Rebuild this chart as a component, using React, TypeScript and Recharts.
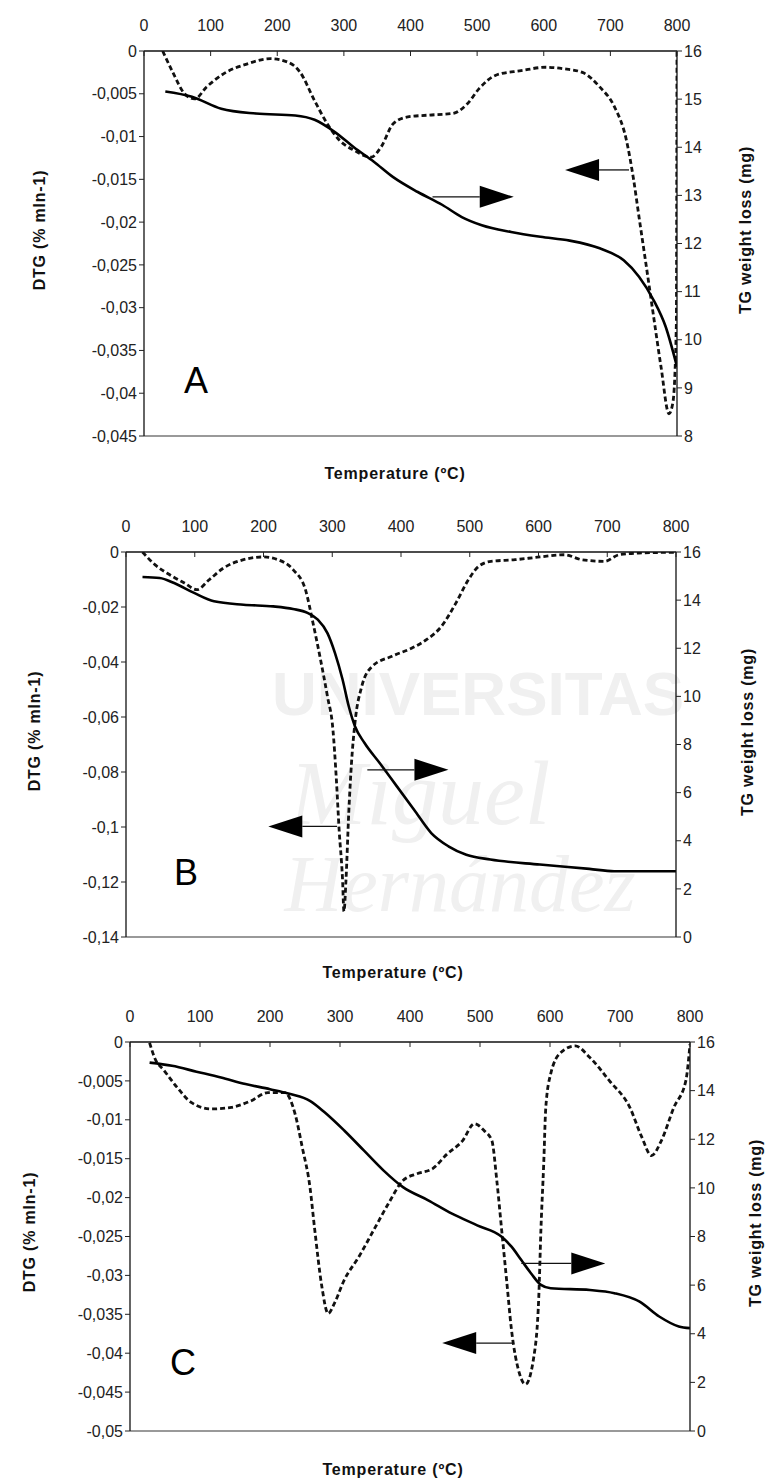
import { LineChart, Line, XAxis, YAxis, ReferenceLine } from "recharts";

// ---- panel A ----
const tA_dtg = [28, 43, 61, 76, 94, 124, 153, 190, 216, 234, 256, 275, 293, 315, 341, 356, 374, 396, 426, 463, 485, 503, 529, 566, 603, 632, 658, 684, 706, 724, 735, 743, 754, 765, 776, 788, 794, 799, 800];
const dtgA = [0, -0.00245, -0.005, -0.0056, -0.0042, -0.00245, -0.00156, -0.0009, -0.0013, -0.00245, -0.0058, -0.0085, -0.0104, -0.0116, -0.0124, -0.0112, -0.0085, -0.0077, -0.0075, -0.0073, -0.0062, -0.0044, -0.0028, -0.0023, -0.0019, -0.0021, -0.0025, -0.0042, -0.0065, -0.0104, -0.0151, -0.0194, -0.0252, -0.0311, -0.0369, -0.0424, -0.041, -0.032, 0];
const tA_tg = [32, 72, 116, 168, 227, 256, 286, 315, 345, 374, 411, 448, 477, 507, 551, 595, 639, 684, 720, 743, 765, 783, 800];
const tgA = [15.16, 15.05, 14.8, 14.7, 14.66, 14.57, 14.32, 14.0, 13.7, 13.38, 13.07, 12.8, 12.55, 12.38, 12.24, 12.14, 12.06, 11.9, 11.65, 11.31, 10.82, 10.27, 9.44];

// ---- panel B ----
const tB_dtg = [24, 42, 63, 85, 103, 121, 142, 171, 200, 221, 243, 261, 272, 283, 293, 301, 306, 310, 315, 317, 320, 324, 328, 333, 343, 358, 387, 416, 437, 459, 480, 498, 513, 531, 566, 602, 638, 663, 696, 717, 746, 800];
const dtgB = [0, -0.0046, -0.0082, -0.0113, -0.0137, -0.0101, -0.0058, -0.0028, -0.0018, -0.0028, -0.0064, -0.0137, -0.0258, -0.0392, -0.0525, -0.0646, -0.0828, -0.101, -0.1192, -0.1307, -0.1192, -0.0949, -0.0767, -0.0622, -0.0488, -0.0416, -0.0379, -0.0349, -0.0319, -0.027, -0.0185, -0.0101, -0.0052, -0.0034, -0.0028, -0.0018, -0.001, -0.0028, -0.0034, -0.001, -0.0004, -0.0001];
const tB_tg = [24, 49, 70, 99, 128, 171, 214, 243, 264, 279, 293, 304, 315, 324, 333, 347, 369, 394, 419, 444, 469, 495, 530, 602, 674, 710, 800];
const tgB = [14.96, 14.92, 14.71, 14.3, 13.95, 13.81, 13.74, 13.63, 13.47, 13.19, 12.63, 11.8, 10.7, 9.59, 8.76, 8.06, 7.23, 6.26, 5.29, 4.32, 3.77, 3.42, 3.22, 3.01, 2.83, 2.73, 2.73];

// ---- panel C ----
const tC_dtg = [28, 35, 49, 67, 88, 116, 145, 172, 197, 221, 236, 246, 257, 264, 274, 283, 292, 306, 327, 348, 369, 390, 411, 432, 453, 475, 492, 506, 517, 524, 531, 538, 545, 556, 565, 577, 584, 587, 591, 594, 601, 615, 636, 657, 685, 714, 731, 745, 759, 777, 794, 800];
const dtgC = [-0.0001, -0.002, -0.0037, -0.0058, -0.0078, -0.0086, -0.0084, -0.0076, -0.0065, -0.0065, -0.0093, -0.0135, -0.0186, -0.0242, -0.0314, -0.0349, -0.0336, -0.0306, -0.0276, -0.0242, -0.0208, -0.0178, -0.0169, -0.0163, -0.0144, -0.0127, -0.0105, -0.0114, -0.0127, -0.0178, -0.0242, -0.0306, -0.037, -0.0425, -0.044, -0.0404, -0.0327, -0.0242, -0.0157, -0.0084, -0.0041, -0.0014, -0.0005, -0.002, -0.005, -0.0084, -0.0122, -0.0146, -0.0127, -0.0084, -0.005, -0.0003];
const tC_tg = [28, 60, 95, 130, 165, 200, 229, 257, 278, 306, 334, 362, 390, 426, 460, 496, 531, 545, 559, 573, 587, 601, 657, 692, 728, 756, 784, 800];
const tgC = [15.15, 15.02, 14.78, 14.54, 14.27, 14.06, 13.86, 13.58, 13.11, 12.36, 11.54, 10.72, 10.03, 9.49, 8.94, 8.46, 7.99, 7.58, 7.03, 6.48, 6.01, 5.87, 5.8, 5.67, 5.32, 4.71, 4.3, 4.23];

const tempTicks = [0, 100, 200, 300, 400, 500, 600, 700, 800];
const dtgTicksA = [0, -0.005, -0.01, -0.015, -0.02, -0.025, -0.03, -0.035, -0.04, -0.045];
const dtgTicksB = [0, -0.02, -0.04, -0.06, -0.08, -0.1, -0.12, -0.14];
const dtgTicksC = [0, -0.005, -0.01, -0.015, -0.02, -0.025, -0.03, -0.035, -0.04, -0.045, -0.05];
const tgTicksA = [8, 9, 10, 11, 12, 13, 14, 15, 16];
const tgTicksBC = [0, 2, 4, 6, 8, 10, 12, 14, 16];

// arrows: [tailT, tipT, y on DTG axis]
const arrowsA = [[433, 555, -0.01705], [728, 632, -0.0139]];
const arrowsB = [[351, 469, -0.0792], [307, 207, -0.0998]];
const arrowsC = [[559, 679, -0.02846], [548, 446, -0.0387]];

const zip = (xs: number[], ys: number[]) => xs.map((t, i) => ({ t, v: ys[i] }));
const fmt = (v: number) => String(Number(v.toFixed(3))).replace(".", ",");

const NUM_FONT = "'Liberation Sans Narrow', 'Liberation Sans', Arial, sans-serif";
const BOLD_FONT = "'Liberation Sans', Arial, sans-serif";

const Arrow = (props: any) => {
  const { x1, y1, x2, y2 } = props;
  const dir = x2 > x1 ? 1 : -1;
  const len = 34;
  const hw = 11;
  const bx = x2 - dir * len;
  return (
    <g>
      <line x1={x1} y1={y1} x2={bx} y2={y2} stroke="#111" strokeWidth={1.3} />
      <polygon points={`${x2},${y2} ${bx},${y2 - hw} ${bx},${y2 + hw}`} fill="#000" />
    </g>
  );
};

const makeTopTick = (plotTop: number) => (props: any) => {
  const { x, payload } = props;
  return (
    <g>
      <line x1={x} y1={plotTop} x2={x} y2={plotTop + 5} stroke="#222" strokeWidth={1} />
      <text x={x} y={plotTop - 20} textAnchor="middle" fill="#222" fontSize={16} fontFamily={NUM_FONT}>
        {payload.value}
      </text>
    </g>
  );
};

type PanelProps = {
  top: number;
  height: number;
  margin: { top: number; right: number; bottom: number; left: number };
  dtg: { t: number; v: number }[];
  tg: { t: number; v: number }[];
  dtgDomain: [number, number];
  dtgTicks: number[];
  tgDomain: [number, number];
  tgTicks: number[];
  arrows: number[][];
};

function Panel({ top, height, margin, dtg, tg, dtgDomain, dtgTicks, tgDomain, tgTicks, arrows }: PanelProps) {
  const plotTop = margin.top + 30;
  const tickStyle = { fill: "#222", fontSize: 16, fontFamily: NUM_FONT };
  return (
    <div style={{ position: "absolute", left: 0, top, width: 768, height }}>
      <LineChart width={768} height={height} margin={margin}>
        <XAxis
          type="number"
          dataKey="t"
          orientation="top"
          xAxisId="x"
          domain={[0, 800]}
          ticks={tempTicks}
          height={30}
          tickLine={false}
          tick={makeTopTick(plotTop)}
          axisLine={{ stroke: "#111", strokeWidth: 1.3 }}
          allowDataOverflow
        />
        <YAxis
          yAxisId="left"
          orientation="left"
          width={60}
          domain={dtgDomain}
          ticks={dtgTicks}
          tickFormatter={fmt}
          tick={tickStyle}
          tickSize={5}
          tickLine={{ stroke: "#222" }}
          axisLine={{ stroke: "#111", strokeWidth: 1.3 }}
          allowDataOverflow
        />
        <YAxis
          yAxisId="right"
          orientation="right"
          width={60}
          domain={tgDomain}
          ticks={tgTicks}
          tick={tickStyle}
          tickSize={5}
          tickLine={{ stroke: "#222" }}
          axisLine={{ stroke: "#111", strokeWidth: 1.3 }}
          allowDataOverflow
        />
        <ReferenceLine xAxisId="x" yAxisId="left" y={dtgDomain[0]} stroke="#777" strokeWidth={1.3} />
        <Line
          xAxisId="x"
          yAxisId="left"
          data={dtg}
          dataKey="v"
          type="monotone"
          stroke="#111"
          strokeWidth={2.8}
          strokeDasharray="5 3"
          dot={false}
          isAnimationActive={false}
        />
        <Line
          xAxisId="x"
          yAxisId="right"
          data={tg}
          dataKey="v"
          type="monotone"
          stroke="#000"
          strokeWidth={2.6}
          dot={false}
          isAnimationActive={false}
        />
        {arrows.map((a, i) => (
          <ReferenceLine
            key={i}
            xAxisId="x"
            yAxisId="left"
            segment={[{ x: a[0], y: a[2] }, { x: a[1], y: a[2] }]}
            shape={Arrow}
          />
        ))}
      </LineChart>
    </div>
  );
}

const abs = (x: number, y: number, extra: any = {}) => ({
  position: "absolute" as const,
  left: x,
  top: y,
  transform: "translate(-50%, -50%)",
  whiteSpace: "nowrap" as const,
  ...extra,
});

const ylab = { fontFamily: BOLD_FONT, fontWeight: 700, fontSize: 16, color: "#111", letterSpacing: 0.8 };
const rot = "translate(-50%, -50%) rotate(-90deg)";
const serifMark = { fontFamily: "'Liberation Serif', serif", fontStyle: "italic", color: "#f0f0f0", lineHeight: 1 };

export default function App() {
  return (
    <div style={{ position: "relative", width: 768, height: 1483, background: "#fff", overflow: "hidden" }}>
      <style>{"body{margin:0}"}</style>

      {/* watermark behind panel B */}
      <div style={abs(478, 694, { fontFamily: NUM_FONT, fontWeight: 700, fontSize: 62, color: "#f0f0f0", lineHeight: 1 })}>UNIVERSITAS</div>
      <div style={abs(420, 793, { ...serifMark, fontSize: 92 })}>Miguel</div>
      <div style={abs(460, 884, { ...serifMark, fontSize: 80 })}>Hernández</div>

      <Panel
        top={0}
        height={480}
        margin={{ top: 21, right: 31, bottom: 44, left: 84 }}
        dtg={zip(tA_dtg, dtgA)}
        tg={zip(tA_tg, tgA)}
        dtgDomain={[-0.045, 0]}
        dtgTicks={dtgTicksA}
        tgDomain={[8, 16]}
        tgTicks={tgTicksA}
        arrows={arrowsA}
      />
      <Panel
        top={480}
        height={500}
        margin={{ top: 42, right: 32, bottom: 43, left: 66 }}
        dtg={zip(tB_dtg, dtgB)}
        tg={zip(tB_tg, tgB)}
        dtgDomain={[-0.14, 0]}
        dtgTicks={dtgTicksB}
        tgDomain={[0, 16]}
        tgTicks={tgTicksBC}
        arrows={arrowsB}
      />
      <Panel
        top={980}
        height={503}
        margin={{ top: 32, right: 18, bottom: 52, left: 70 }}
        dtg={zip(tC_dtg, dtgC)}
        tg={zip(tC_tg, tgC)}
        dtgDomain={[-0.05, 0]}
        dtgTicks={dtgTicksC}
        tgDomain={[0, 16]}
        tgTicks={tgTicksBC}
        arrows={arrowsC}
      />

      {/* panel letters */}
      <div style={abs(196, 381, { fontFamily: BOLD_FONT, fontSize: 36, color: "#000" })}>A</div>
      <div style={abs(186, 873, { fontFamily: BOLD_FONT, fontSize: 36, color: "#000" })}>B</div>
      <div style={abs(183, 1363, { fontFamily: BOLD_FONT, fontSize: 36, color: "#000" })}>C</div>

      {/* axis titles */}
      <div style={abs(40, 230, { ...ylab, transform: rot })}>DTG (% mIn-1)</div>
      <div style={abs(746, 230, { ...ylab, transform: rot })}>TG weight loss (mg)</div>
      <div style={abs(395, 474, ylab)}>Temperature (ºC)</div>

      <div style={abs(35, 731, { ...ylab, transform: rot })}>DTG (% mIn-1)</div>
      <div style={abs(748, 732, { ...ylab, transform: rot })}>TG weight loss (mg)</div>
      <div style={abs(393, 973, ylab)}>Temperature (ºC)</div>

      <div style={abs(30, 1232, { ...ylab, transform: rot })}>DTG (% mIn-1)</div>
      <div style={abs(756, 1223, { ...ylab, transform: rot })}>TG weight loss (mg)</div>
      <div style={abs(393, 1470, ylab)}>Temperature (ºC)</div>
    </div>
  );
}
